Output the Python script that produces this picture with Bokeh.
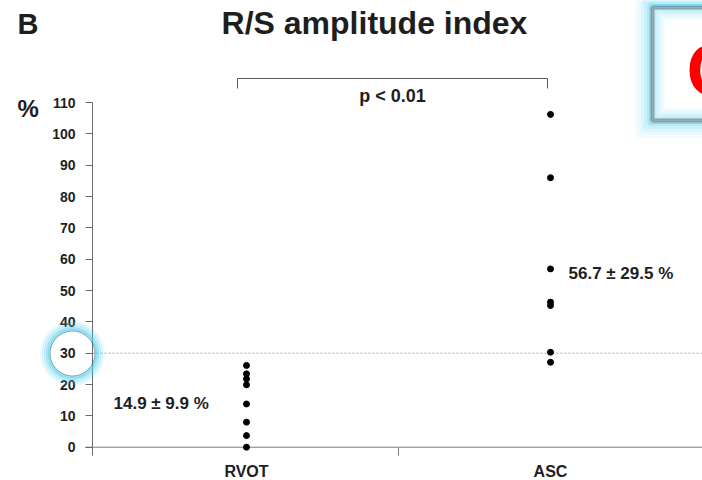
import numpy as np
from bokeh.plotting import figure
from bokeh.models import (Range1d, FixedTicker, Label, PolyAnnotation, LinearAxis,
                          BoxAnnotation, ColumnDataSource)
from bokeh.embed import file_html
from bokeh.resources import INLINE

# ---------------- data ----------------
categories = ["RVOT", "ASC"]
cat_pos = [1, 2]
rvot_values = [26.1, 23.4, 21.8, 19.9, 13.8, 8.0, 3.7, 0.0]
asc_values = [106.2, 86.0, 56.9, 46.3, 45.2, 30.3, 27.1]
y_ticks = [0, 10, 20, 30, 40, 50, 60, 70, 80, 90, 100, 110]
threshold = 30
stat_labels = ["14.9 ± 9.9 %", "56.7 ± 29.5 %"]
p_label = "p < 0.01"
title_text = "R/S amplitude index"
panel_letter = "B"
unit_label = "%"

FONT = "Liberation Sans"
TXT = "#1e1e1e"

# ---------------- layout helpers (canvas pixel -> data) ----------------
X_PX = 304.0      # px per category step
X0_PX = 246.0     # pixel of first category
Y_PX = 3.1336     # px per % unit
Y0_PX = 446.7     # pixel of 0 %
W, H = 702, 480


def dx(px):
    return 1 + (px - X0_PX) / X_PX


def dy(py):
    return (Y0_PX - py) / Y_PX


p = figure(width=W, height=H, title=None,
           x_range=Range1d(dx(0), dx(W)), y_range=Range1d(dy(H), dy(0)),
           x_axis_location=None, y_axis_location=None,
           min_border=0, output_backend="svg", toolbar_location=None,
           outline_line_color=None)
p.grid.visible = False
p.background_fill_color = "white"
p.border_fill_color = "white"

# left axis (drawn at a fixed spot inside the canvas)
ya = LinearAxis(fixed_location=dx(92))
ya.ticker = FixedTicker(ticks=y_ticks, minor_ticks=[])
ya.bounds = (dy(455), 110)
ya.axis_line_color = "#6a6a6a"
ya.major_tick_line_color = "#6a6a6a"
ya.major_tick_out = 7
ya.major_tick_in = 0
ya.minor_tick_line_color = None
ya.major_label_text_font = FONT
ya.major_label_text_font_style = "bold"
ya.major_label_text_font_size = "14px"
ya.major_label_text_color = TXT
ya.major_label_standoff = 10
p.add_layout(ya, "left")

# bottom axis
xa = LinearAxis(fixed_location=dy(455))
xa.ticker = FixedTicker(ticks=cat_pos, minor_ticks=[1.5])
xa.major_label_overrides = {cat_pos[0]: categories[0], cat_pos[1]: categories[1]}
xa.axis_line_color = None
xa.major_tick_line_color = None
xa.major_tick_out = 0
xa.major_tick_in = 0
xa.minor_tick_line_color = "#808080"
xa.minor_tick_in = 8
xa.minor_tick_out = 0
xa.major_label_text_font = FONT
xa.major_label_text_font_style = "bold"
xa.major_label_text_font_size = "16px"
xa.major_label_text_color = TXT
xa.major_label_standoff = 7
p.add_layout(xa, "below")

# baseline and threshold lines
p.segment(x0=[dx(85)], y0=[0], x1=[dx(W)], y1=[0], line_color="#7a7a7a", line_width=1)
p.segment(x0=[dx(92)], y0=[threshold], x1=[dx(W)], y1=[threshold],
          line_color="#a8a8a8", line_width=1, line_dash="2 2")

# points
src_r = ColumnDataSource(dict(x=[cat_pos[0]] * len(rvot_values), y=rvot_values))
src_a = ColumnDataSource(dict(x=[cat_pos[1]] * len(asc_values), y=asc_values))
p.scatter("x", "y", source=src_r, size=6, color="black")
p.scatter("x", "y", source=src_a, size=6, color="black")

# significance bracket
p.line([dx(237), dx(237), dx(547), dx(547)], [dy(88), dy(78), dy(78), dy(88)],
       line_color="#5a5a5a", line_width=1)


def lab(text, x, y, size, align="left", color=TXT):
    p.add_layout(Label(x=x, y=y, text=text, text_font=FONT, text_font_style="bold",
                       text_font_size=size, text_color=color, text_align=align,
                       text_baseline="middle"))


lab(title_text, dx(374), dy(22), "32px", "center")
lab(panel_letter, dx(17), dy(23), "29px")
lab(unit_label, dx(17), dy(108), "24px")
lab(p_label, dx(392), dy(95), "18px", "center")
lab(stat_labels[0], dx(113), dy(403), "17px")
lab(stat_labels[1], dx(568), dy(273), "17px")

# circle highlight around the 30 tick label
t = np.linspace(0, 2 * np.pi, 73)
cx, cy, r0 = 72.0, 353.0, 22.5
for rr, a in [(31, 0.10), (29, 0.18), (27, 0.28), (25, 0.40), (23.5, 0.45)]:
    p.add_layout(PolyAnnotation(xs=list(dx(cx + rr * np.cos(t))), ys=list(dy(cy + rr * np.sin(t))),
                                fill_alpha=0, line_color="#4fcdf0", line_alpha=a, line_width=3))
p.add_layout(PolyAnnotation(xs=list(dx(cx + r0 * np.cos(t))), ys=list(dy(cy + r0 * np.sin(t))),
                            fill_alpha=0, line_color="black", line_width=1))

# top-right highlighted box
L, R, T, B = 652, 720, 7, 120
for off, a in [(16, 0.06), (13, 0.12), (10, 0.2), (7, 0.3), (4, 0.42), (2, 0.5)]:
    p.add_layout(BoxAnnotation(left=dx(L - off), right=dx(R + off), top=dy(T - off), bottom=dy(B + off),
                               fill_alpha=0, line_color="#4fcdf0", line_alpha=a, line_width=3,
                               editable=False))
p.add_layout(BoxAnnotation(left=dx(L), right=dx(R), top=dy(T), bottom=dy(B),
                           fill_color="#bfeefb", fill_alpha=1, line_color=None))
for ins, c in [(4, "#d4f3fc"), (7, "#e6f8fd"), (10, "#f4fcfe"), (13, "white")]:
    p.add_layout(BoxAnnotation(left=dx(L + ins), right=dx(R), top=dy(T + ins), bottom=dy(B - ins),
                               fill_color=c, fill_alpha=1, line_color=None))
lab("C", dx(686), dy(70), "74px", "left", "#ff0000")
p.add_layout(BoxAnnotation(left=dx(L), right=dx(R), top=dy(T), bottom=dy(B),
                           fill_alpha=0, line_color="black", line_width=4))

open("out.html", "w").write(file_html(p, INLINE))
